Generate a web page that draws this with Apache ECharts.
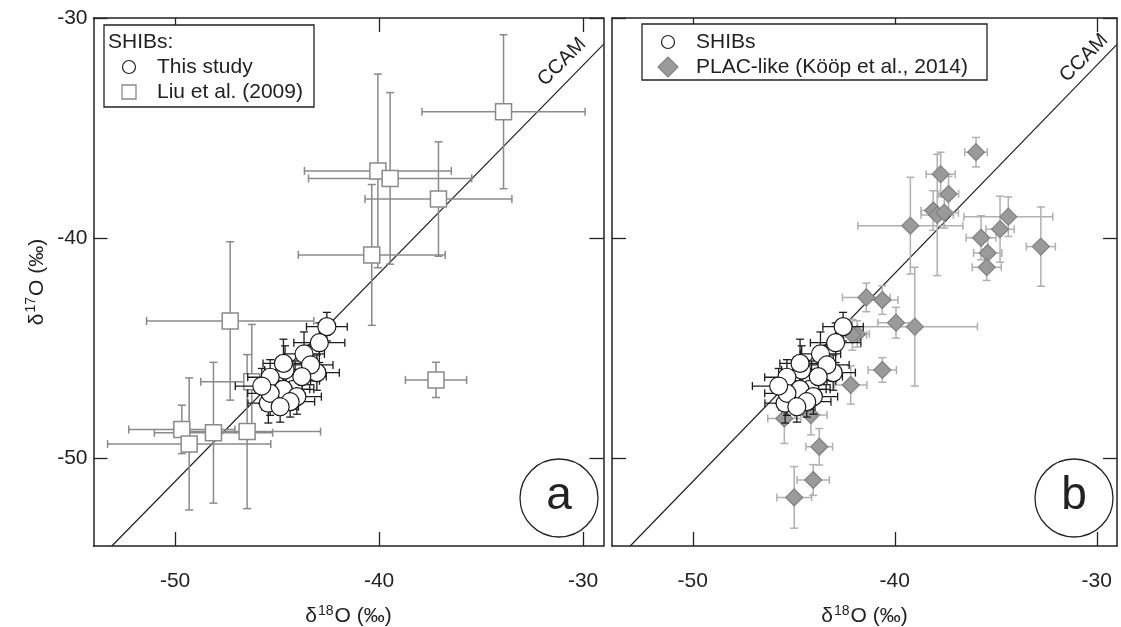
<!DOCTYPE html>
<html>
<head>
<meta charset="utf-8">
<script src="https://cdn.jsdelivr.net/npm/echarts@6/dist/echarts.min.js"></script>
<style>html,body{margin:0;padding:0;background:#fff}#c{width:1121px;height:627px}</style>
</head>
<body>
<div id="c"></div>
<script>
// ---- Data ----
const xTicks = [-50, -40, -30];
const yTicks = [-50, -40, -30];

// CCAM reference line end points
const ccamX = [-53.1, -29];
const ccamY = [-54, -31.2];

// SHIBs (this study)
const shibX = [-42.56, -42.93, -43.68, -43.05, -44.12, -44.61, -45.34, -44.2, -44.7, -44.03, -45.43, -45.34, -44.36, -45.75, -44.69, -43.36, -44.85, -43.79];
const shibY = [-44.03, -44.76, -45.27, -46.12, -46.49, -46.0, -46.33, -46.88, -46.88, -47.21, -47.51, -47.06, -47.44, -46.73, -45.7, -45.77, -47.67, -46.3];
const shibXErr = [1.0, 1.25, 1.0, 1.1, 1.2, 1.0, 1.1, 1.0, 1.3, 1.2, 1.0, 1.1, 1.2, 1.3, 1.0, 1.1, 0.9, 1.2];
const shibYErr = [0.65, 0.9, 1.0, 0.8, 0.9, 1.1, 0.8, 0.9, 0.7, 0.8, 0.9, 1.0, 0.7, 0.8, 1.1, 0.9, 0.7, 0.8];

// SHIBs, Liu et al. (2009)
const liuX = [-33.9, -40.06, -39.46, -37.09, -40.36, -47.3, -46.24, -49.67, -49.31, -48.12, -46.47, -37.21];
const liuY = [-34.26, -36.95, -37.29, -38.23, -40.77, -43.77, -46.53, -48.70, -49.36, -48.85, -48.80, -46.45];
const liuXErr = [4.0, 3.6, 4.0, 3.6, 3.6, 4.1, 2.5, 2.6, 4.0, 2.9, 3.6, 1.5];
const liuYErr = [3.5, 4.4, 3.9, 2.6, 3.2, 3.6, 2.6, 1.1, 3.0, 3.2, 3.5, 0.8];

// PLAC-like (Kööp et al., 2014)
const placX = [-35.98, -37.73, -37.34, -38.1, -37.9, -37.55, -39.23, -34.38, -34.79, -35.73, -35.4, -35.45, -32.77, -41.41, -40.62, -39.94, -39.01, -41.86, -42.1, -40.62, -42.18, -45.47, -44.15, -43.74, -44.04, -44.98];
const placY = [-36.1, -37.1, -38.0, -38.75, -38.95, -38.85, -39.44, -39.03, -39.6, -39.99, -40.68, -41.33, -40.39, -42.7, -42.82, -43.85, -44.03, -44.36, -44.4, -46.0, -46.68, -48.2, -48.05, -49.49, -51.0, -51.79];
const placXErr = [0.56, 0.72, 0.5, 0.6, 0.8, 0.7, 2.6, 2.2, 0.7, 0.74, 0.7, 0.72, 0.72, 1.18, 0.78, 0.9, 3.1, 0.6, 0.7, 0.7, 0.8, 0.82, 0.8, 0.66, 0.8, 0.86];
const placYErr = [0.67, 1.0, 0.8, 0.9, 2.76, 0.7, 2.2, 0.9, 1.5, 1.0, 0.7, 0.6, 1.8, 0.65, 0.65, 0.7, 2.7, 0.6, 0.7, 0.56, 0.87, 1.14, 0.9, 0.83, 0.7, 1.4];

// ---- Build ----
const FONT = '"Liberation Sans", Arial, sans-serif';
const rows = (xs, ys, ex, ey) => xs.map((x, i) => [x, ys[i], ex ? ex[i] : 0, ey ? ey[i] : 0]);
const pts = (xs, ys) => xs.map((x, i) => [x, ys[i]]);

function errRender(color, cap, lw) {
  return function (params, api) {
    const x = api.value(0), y = api.value(1), ex = api.value(2), ey = api.value(3);
    const l = api.coord([x - ex, y]), r = api.coord([x + ex, y]);
    const t = api.coord([x, y + ey]), b = api.coord([x, y - ey]);
    const st = { stroke: color, lineWidth: lw };
    const h = cap / 2;
    const ln = (x1, y1, x2, y2) => ({ type: 'line', shape: { x1, y1, x2, y2 }, style: st });
    return {
      type: 'group',
      children: [
        ln(l[0], l[1], r[0], r[1]),
        ln(t[0], t[1], b[0], b[1]),
        ln(l[0], l[1] - h, l[0], l[1] + h),
        ln(r[0], r[1] - h, r[0], r[1] + h),
        ln(t[0] - h, t[1], t[0] + h, t[1]),
        ln(b[0] - h, b[1], b[0] + h, b[1])
      ]
    };
  };
}

const axisCommon = {
  type: 'value', min: -54, max: -29, splitLine: { show: false },
  axisLine: { show: true, onZero: false, lineStyle: { color: '#222', width: 1.5 } },
  axisTick: { show: true, inside: true, length: 14, customValues: xTicks, lineStyle: { color: '#222', width: 1.3 } }
};
const yAxisCommon = {
  type: 'value', min: -54, max: -30, splitLine: { show: false },
  axisLine: { show: true, onZero: false, lineStyle: { color: '#222', width: 1.5 } },
  axisTick: { show: true, inside: true, length: 14, customValues: yTicks, lineStyle: { color: '#222', width: 1.3 } }
};
const titleRich = {
  d: { fontSize: 21, fontFamily: FONT, color: '#222' },
  s: { fontSize: 14, fontFamily: FONT, color: '#222', verticalAlign: 'top', padding: [0, 1, 11, 1] }
};
const xTitle = {
  name: '{d|δ}{s|18}{d|O (‰)}', nameLocation: 'middle', nameGap: 58,
  nameTextStyle: { fontFamily: FONT, color: '#222', rich: titleRich }
};
const xLabel = { show: true, margin: 25, fontSize: 21, fontFamily: FONT, color: '#222', customValues: xTicks };

const grids = [
  { left: 93.5, top: 18, width: 510, height: 528, outerBoundsMode: 'none', containLabel: false },
  { left: 612, top: 18, width: 505, height: 528, outerBoundsMode: 'none', containLabel: false }
];

const xAxes = [
  Object.assign({}, axisCommon, xTitle, { gridIndex: 0, position: 'bottom', axisLabel: xLabel }),
  Object.assign({}, axisCommon, { gridIndex: 0, position: 'top', axisLabel: { show: false } }),
  Object.assign({}, axisCommon, xTitle, { gridIndex: 1, position: 'bottom', axisLabel: xLabel }),
  Object.assign({}, axisCommon, { gridIndex: 1, position: 'top', axisLabel: { show: false } })
];
const yAxes = [
  Object.assign({}, yAxisCommon, {
    gridIndex: 0, position: 'left',
    axisLabel: { show: true, margin: 6, fontSize: 21, fontFamily: FONT, color: '#222', customValues: yTicks },
    name: '{d|δ}{s|17}{d|O (‰)}', nameLocation: 'middle', nameGap: 44, nameRotate: 90,
    nameTextStyle: { fontFamily: FONT, color: '#222', rich: titleRich }
  }),
  Object.assign({}, yAxisCommon, { gridIndex: 0, position: 'right', axisLabel: { show: false } }),
  Object.assign({}, yAxisCommon, { gridIndex: 1, position: 'left', axisLabel: { show: false } }),
  Object.assign({}, yAxisCommon, { gridIndex: 1, position: 'right', axisLabel: { show: false } })
];

function panelSeries(xi, yi) {
  return [
    { type: 'line', xAxisIndex: xi, yAxisIndex: yi, data: pts(ccamX, ccamY), symbol: 'none', silent: true,
      lineStyle: { color: '#222', width: 1.2 }, z: 1 }
  ];
}

const series = [].concat(
  panelSeries(0, 0),
  [
    { type: 'custom', xAxisIndex: 0, yAxisIndex: 0, renderItem: errRender('#8a8a8a', 8, 1.5),
      data: rows(liuX, liuY, liuXErr, liuYErr), encode: { x: 0, y: 1 }, z: 2, clip: true },
    { type: 'scatter', xAxisIndex: 0, yAxisIndex: 0, data: pts(liuX, liuY), symbol: 'rect', symbolSize: 16,
      itemStyle: { color: '#fff', borderColor: '#8a8a8a', borderWidth: 1.5, opacity: 1 }, z: 3 },
    { type: 'custom', xAxisIndex: 0, yAxisIndex: 0, renderItem: errRender('#1c1c1c', 8, 1.3),
      data: rows(shibX, shibY, shibXErr, shibYErr), encode: { x: 0, y: 1 }, z: 4, clip: true },
    { type: 'scatter', xAxisIndex: 0, yAxisIndex: 0, data: pts(shibX, shibY), symbol: 'circle', symbolSize: 18,
      itemStyle: { color: '#fff', borderColor: '#1c1c1c', borderWidth: 1.2, opacity: 1 }, z: 5 }
  ],
  panelSeries(2, 2),
  [
    { type: 'custom', xAxisIndex: 2, yAxisIndex: 2, renderItem: errRender('#b0b0b0', 8, 1.5),
      data: rows(placX, placY, placXErr, placYErr), encode: { x: 0, y: 1 }, z: 2, clip: true },
    { type: 'scatter', xAxisIndex: 2, yAxisIndex: 2, data: pts(placX, placY), symbol: 'diamond', symbolSize: 17,
      itemStyle: { color: '#9a9a9a', borderColor: '#808080', borderWidth: 1.2, opacity: 1 }, z: 3 },
    { type: 'custom', xAxisIndex: 2, yAxisIndex: 2, renderItem: errRender('#1c1c1c', 8, 1.3),
      data: rows(shibX, shibY, shibXErr, shibYErr), encode: { x: 0, y: 1 }, z: 4, clip: true },
    { type: 'scatter', xAxisIndex: 2, yAxisIndex: 2, data: pts(shibX, shibY), symbol: 'circle', symbolSize: 18,
      itemStyle: { color: '#fff', borderColor: '#1c1c1c', borderWidth: 1.2, opacity: 1 }, z: 5 }
  ]
);

const txt = (x, y, s, size, align, rot) => ({ type: 'text', x, y, z: 100, rotation: rot || 0,
  style: { text: s, fontSize: size, fontFamily: FONT, fill: '#222', textAlign: align || 'left', textVerticalAlign: 'middle' } });

const graphic = [
  // legend a
  { type: 'rect', shape: { x: 104, y: 25, width: 210, height: 82 }, style: { fill: '#fff', stroke: '#222', lineWidth: 1.3 }, z: 90 },
  txt(108, 42, 'SHIBs:', 21),
  { type: 'circle', shape: { cx: 129, cy: 67, r: 6.5 }, style: { fill: '#fff', stroke: '#222', lineWidth: 1.2 }, z: 100 },
  txt(157, 67, 'This study', 21),
  { type: 'rect', shape: { x: 122, y: 85, width: 14, height: 14 }, style: { fill: '#fff', stroke: '#8a8a8a', lineWidth: 1.3 }, z: 100 },
  txt(157, 92, 'Liu et al. (2009)', 21),
  // legend b
  { type: 'rect', shape: { x: 642, y: 24, width: 345, height: 56 }, style: { fill: '#fff', stroke: '#222', lineWidth: 1.3 }, z: 90 },
  { type: 'circle', shape: { cx: 668, cy: 42, r: 6.5 }, style: { fill: '#fff', stroke: '#222', lineWidth: 1.2 }, z: 100 },
  txt(696, 42, 'SHIBs', 21),
  { type: 'polygon', shape: { points: [[668, 57], [678, 67], [668, 77], [658, 67]] }, style: { fill: '#9a9a9a', stroke: '#808080', lineWidth: 1.2 }, z: 100 },
  txt(696, 67, 'PLAC-like (Kööp et al., 2014)', 21),
  // CCAM labels
  txt(562, 62, 'CCAM', 20, 'center', Math.PI / 4),
  txt(1084, 58, 'CCAM', 20, 'center', Math.PI / 4),
  // panel letters
  { type: 'circle', shape: { cx: 559, cy: 498, r: 39 }, style: { fill: '#fff', stroke: '#222', lineWidth: 1.3 }, z: 95 },
  txt(559, 496, 'a', 46, 'center'),
  { type: 'circle', shape: { cx: 1074, cy: 498, r: 39 }, style: { fill: '#fff', stroke: '#222', lineWidth: 1.3 }, z: 95 },
  txt(1074, 496, 'b', 46, 'center')
];

const chart = echarts.init(document.getElementById('c'), null, { renderer: 'canvas' });
chart.setOption({
  animation: false,
  backgroundColor: '#fff',
  grid: grids,
  xAxis: xAxes,
  yAxis: yAxes,
  series: series,
  graphic: graphic
});
</script>
</body>
</html>
